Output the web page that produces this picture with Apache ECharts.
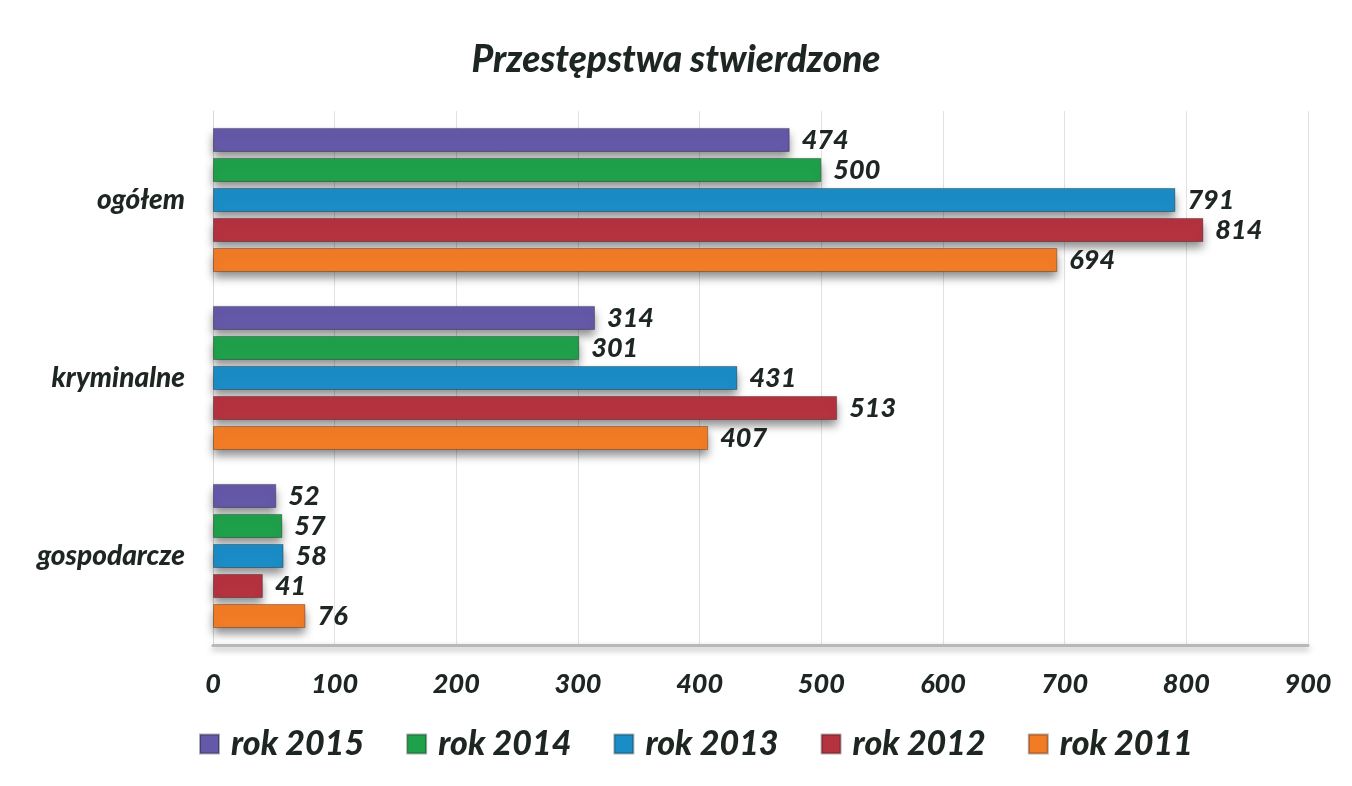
<!DOCTYPE html>
<html>
<head>
<meta charset="utf-8">
<script src="https://cdn.jsdelivr.net/npm/echarts@6/dist/echarts.min.js"></script>
<style>
  html, body { margin: 0; padding: 0; background: #fff; }
  #main { width: 1352px; height: 786px; }
</style>
</head>
<body>
<div id="main"></div>
<script>
var categories = ['ogółem', 'kryminalne', 'gospodarcze'];
var years = ['rok 2015', 'rok 2014', 'rok 2013', 'rok 2012', 'rok 2011'];
var rok2015 = [474, 314, 52];
var rok2014 = [500, 301, 57];
var rok2013 = [791, 431, 58];
var rok2012 = [814, 513, 41];
var rok2011 = [694, 407, 76];
var colors = ['#6458a8', '#1fa04a', '#1a8cc6', '#b5323f', '#f27b25'];

var chart = echarts.init(document.getElementById('main'));
var font = 'Lato, "Open Sans", sans-serif';
var ink = '#1e2622';

function makeSeries(name, data) {
  return {
    name: name,
    type: 'bar',
    data: data,
    barGap: '25%',
    barCategoryGap: '19%',
    itemStyle: {
      shadowColor: 'rgba(0,0,0,0.45)',
      shadowBlur: 10,
      shadowOffsetY: 6,
      borderColor: 'rgba(0,0,0,0.3)',
      borderWidth: 1
    },
    label: {
      show: true,
      position: 'right',
      distance: 12,
      color: ink,
      fontFamily: font,
      fontStyle: 'italic',
      fontWeight: 900,
      fontSize: 27
    }
  };
}

var option = {
  color: colors,
  title: {
    text: 'Przestępstwa stwierdzone',
    left: 'center',
    top: 37,
    textStyle: {
      fontFamily: font,
      fontStyle: 'italic',
      fontWeight: 900,
      fontSize: 37,
      color: ink
    }
  },
  legend: {
    data: years,
    bottom: 20,
    left: 194,
    itemWidth: 19,
    itemHeight: 19,
    itemGap: 42,
    icon: 'rect',
    textStyle: {
      fontFamily: font,
      fontStyle: 'italic',
      fontWeight: 900,
      fontSize: 34,
      color: ink,
      padding: [0, 0, 0, 7]
    }
  },
  grid: {
    left: 213,
    right: 44,
    top: 111,
    bottom: 141
  },
  xAxis: {
    type: 'value',
    min: 0,
    max: 900,
    interval: 100,
    axisLine: {
      show: true,
      lineStyle: {
        color: '#b8b8b8',
        width: 3,
        shadowColor: 'rgba(0,0,0,0.35)',
        shadowBlur: 6,
        shadowOffsetY: 3
      }
    },
    axisTick: { show: false },
    splitLine: { lineStyle: { color: '#e2e2e2' } },
    axisLabel: {
      margin: 26,
      color: ink,
      fontFamily: font,
      fontStyle: 'italic',
      fontWeight: 900,
      fontSize: 27
    }
  },
  yAxis: {
    type: 'category',
    inverse: true,
    data: categories,
    axisTick: { show: false },
    axisLine: { lineStyle: { color: '#d8d8d8' } },
    axisLabel: {
      margin: 28,
      color: ink,
      fontFamily: font,
      fontStyle: 'italic',
      fontWeight: 900,
      fontSize: 28
    }
  },
  series: [
    makeSeries(years[0], rok2015),
    makeSeries(years[1], rok2014),
    makeSeries(years[2], rok2013),
    makeSeries(years[3], rok2012),
    makeSeries(years[4], rok2011)
  ]
};

chart.setOption(option);
</script>
</body>
</html>
